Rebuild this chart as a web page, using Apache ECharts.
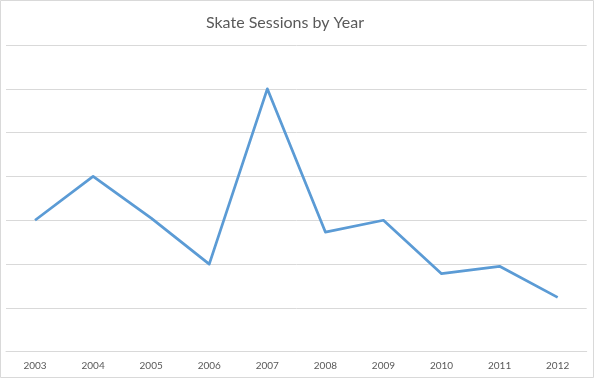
<!DOCTYPE html>
<html>
<head>
<meta charset="utf-8">
<script src="https://cdn.jsdelivr.net/npm/echarts@6/dist/echarts.min.js"></script>
<style>
html,body{margin:0;padding:0;background:#fff;}
#c{width:600px;height:380px;}
</style>
</head>
<body>
<div id="c"></div>
<script>
var years = ['2003','2004','2005','2006','2007','2008','2009','2010','2011','2012'];
var sessions = [3, 4, 3.05, 2, 6, 2.73, 3, 1.78, 1.95, 1.24];
var titleText = 'Skate Sessions by Year';

var chart = echarts.init(document.getElementById('c'), null, {renderer: 'canvas'});
chart.setOption({
  backgroundColor: '#ffffff',
  animation: false,
  title: {
    text: titleText,
    left: 280,
    textAlign: 'center',
    top: 10,
    textStyle: {fontFamily: 'Lato', fontWeight: 'normal', fontSize: 16, color: '#595959'}
  },
  graphic: [{
    type: 'rect',
    shape: {x: 0.5, y: 0.5, width: 593, height: 377},
    style: {fill: 'none', stroke: '#d9d9d9', lineWidth: 1},
    silent: true
  }],
  grid: {left: 6, right: 13.3, top: 45, bottom: 28.3, containLabel: false},
  xAxis: {
    type: 'category',
    data: years,
    boundaryGap: true,
    axisLine: {show: true, lineStyle: {color: '#d9d9d9', width: 1}},
    axisTick: {show: false},
    axisLabel: {color: '#595959', fontFamily: 'Lato', fontSize: 10, margin: 9}
  },
  yAxis: {
    type: 'value',
    min: 0,
    max: 7,
    interval: 1,
    axisLine: {show: false},
    axisTick: {show: false},
    axisLabel: {show: false},
    splitLine: {lineStyle: {color: '#d9d9d9', width: 1}}
  },
  series: [{
    type: 'line',
    data: sessions,
    symbol: 'none',
    lineStyle: {color: '#5b9bd5', width: 2.75, join: 'round'}
  }]
});
</script>
</body>
</html>
